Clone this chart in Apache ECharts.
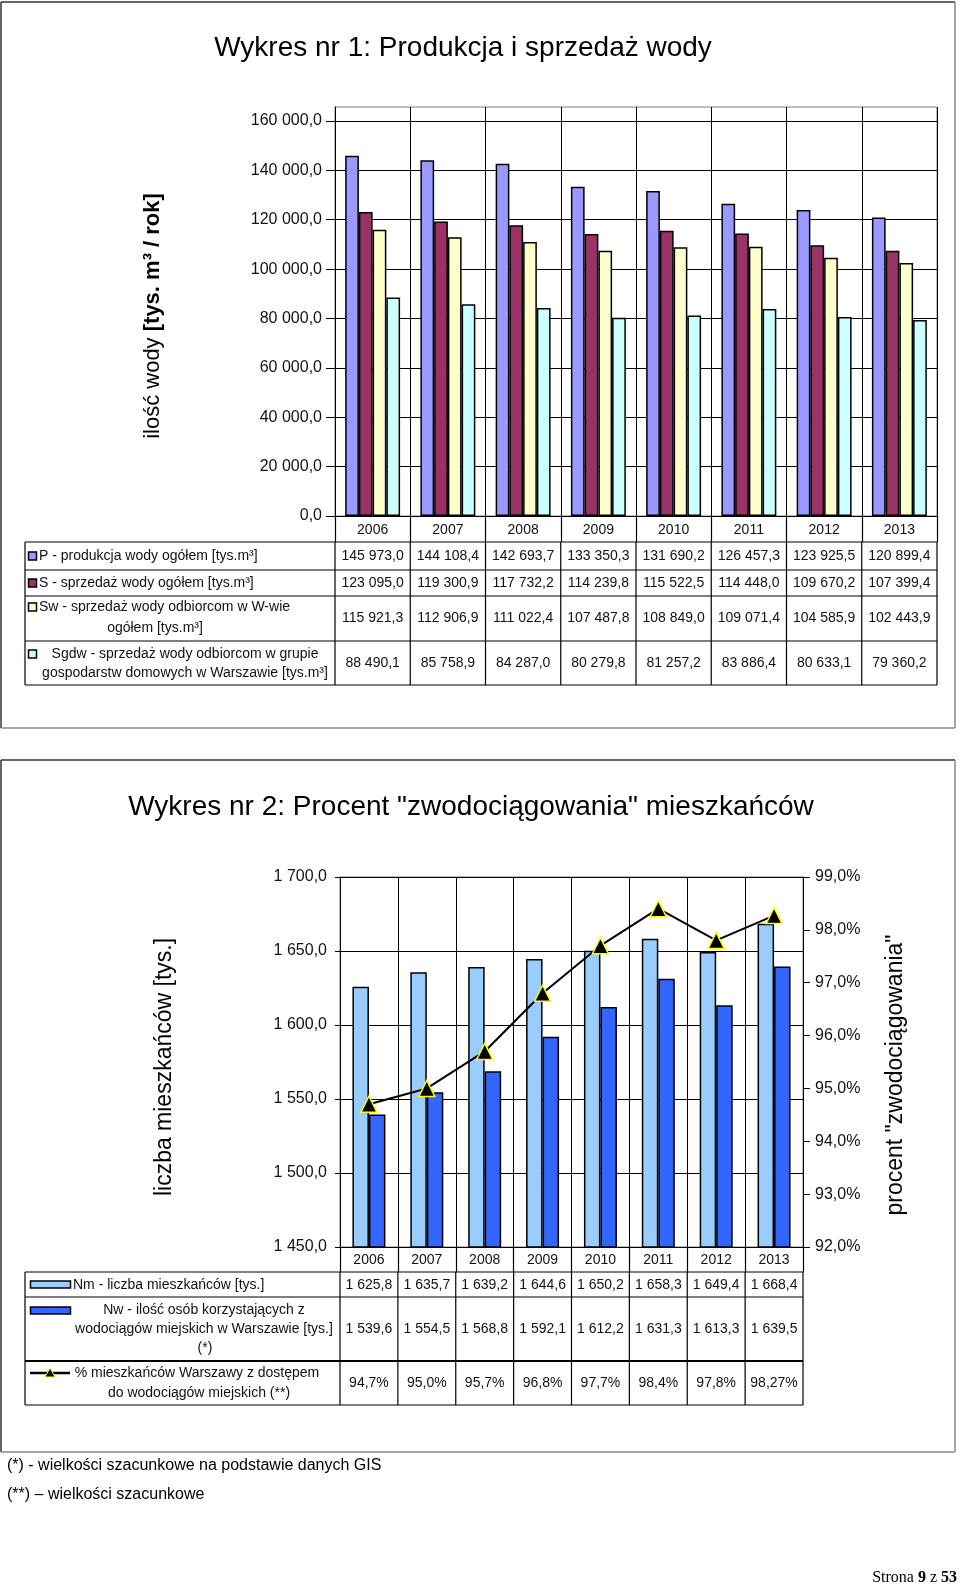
<!DOCTYPE html>
<html><head><meta charset="utf-8">
<script src="https://cdn.jsdelivr.net/npm/echarts@6/dist/echarts.min.js"></script>
<style>html,body{margin:0;padding:0;background:#fff}#c{width:960px;height:1588px}</style>
</head><body><div id="c"></div>
<script>
// ---------- data ----------
const years = ['2006','2007','2008','2009','2010','2011','2012','2013'];
const P    = [145973.0, 144108.4, 142693.7, 133350.3, 131690.2, 126457.3, 123925.5, 120899.4];
const S    = [123095.0, 119300.9, 117732.2, 114239.8, 115522.5, 114448.0, 109670.2, 107399.4];
const Sw   = [115921.3, 112906.9, 111022.4, 107487.8, 108849.0, 109071.4, 104585.9, 102443.9];
const Sgdw = [88490.1, 85758.9, 84287.0, 80279.8, 81257.2, 83886.4, 80633.1, 79360.2];
const Nm   = [1625.8, 1635.7, 1639.2, 1644.6, 1650.2, 1658.3, 1649.4, 1668.4];
const Nw   = [1539.6, 1554.5, 1568.8, 1592.1, 1612.2, 1631.3, 1613.3, 1639.5];
const pct  = [94.7, 95.0, 95.7, 96.8, 97.7, 98.4, 97.8, 98.27];
const yTicks1 = [0, 20000, 40000, 60000, 80000, 100000, 120000, 140000, 160000];
const yTicks2 = [1450, 1500, 1550, 1600, 1650, 1700];
const yTicks3 = [92, 93, 94, 95, 96, 97, 98, 99];

const FF = '"Liberation Sans", Arial, sans-serif';
const FS = '"Liberation Serif", "Times New Roman", serif';

function fmt(v, d) {
  const s = v.toFixed(d); const parts = s.split('.');
  const ii = parts[0].replace(/\B(?=(\d{3})+(?!\d))/g, ' ');
  return parts[1] ? ii + ',' + parts[1] : ii;
}
function fmtPct(v) {
  const s = Math.abs(Math.round(v * 10) - v * 10) < 1e-6 ? v.toFixed(1) : String(v);
  return s.replace('.', ',') + '%';
}

// ---------- layout ----------
const G1 = {l: 335, r: 937, t: 107, b: 516, tickTop: 121};
const G2 = {l: 340, r: 803, t: 877, b: 1247};
const max1 = yTicks1[yTicks1.length - 1] * (G1.b - G1.t) / (G1.b - G1.tickTop);

const g = [];
function line(x1, y1, x2, y2, c, w) { g.push({type: 'line', silent: true, shape: {x1, y1, x2, y2}, style: {stroke: c || '#000', lineWidth: w || 1}}); }
function txt(x, y, t, o) {
  o = o || {};
  g.push({type: 'text', silent: true, x, y, rotation: o.rot || 0, z: 50,
    style: {text: t, fill: o.color || '#111', fontSize: o.size || 14, fontFamily: o.font || FF, fontWeight: o.weight || 'normal',
      align: o.align || 'center', textAlign: o.align || 'center', verticalAlign: 'middle', textVerticalAlign: 'middle', rich: o.rich}});
}
function rect(x, y, w, h, fill, stroke, lw) { g.push({type: 'rect', silent: true, z: 50, shape: {x, y, width: w, height: h}, style: {fill, stroke: stroke || '#000', lineWidth: lw || 1}}); }

// frames
function frame(x, y, w, h) {
  line(x, y, x + w, y, '#333', 1.5); line(x, y, x, y + h, '#333', 1.5);
  line(x + w, y, x + w, y + h, '#888', 1.5); line(x, y + h, x + w, y + h, '#888', 1.5);
}
frame(1, 2, 954, 726);
frame(1, 760, 954, 692);

// titles
txt(463, 48, 'Wykres nr 1: Produkcja i sprzedaż wody', {size: 28, color: '#000'});
txt(471, 807, 'Wykres nr 2: Procent "zwodociągowania" mieszkańców', {size: 28, color: '#000'});

// axis names
txt(153, 316, '{a|ilość wody }{b|[tys. m³ / rok]}', {rot: Math.PI / 2, color: '#000',
  rich: {a: {fontSize: 22, fontFamily: FF, fill: '#000'}, b: {fontSize: 22, fontFamily: FF, fontWeight: 'bold', fill: '#000'}}});
txt(165, 1067, 'liczba mieszkańców [tys.]', {rot: Math.PI / 2, size: 23, color: '#000'});
txt(896, 1075, 'procent "zwodociągowania"', {rot: Math.PI / 2, size: 23, color: '#000'});

// ---------- table 1 ----------
const cw1 = (G1.r - G1.l) / years.length;
const rows1 = [542, 570, 596, 641, 685];
rows1.forEach(y => line(25, y, G1.r, y, '#000', 1.2));
line(25, rows1[0], 25, rows1[4], '#000', 1.2);
for (let i = 0; i <= years.length; i++) line(G1.l + cw1 * i, rows1[0], G1.l + cw1 * i, rows1[4], '#000', 1.2);
[P, S, Sw, Sgdw].forEach((arr, r) => {
  const cy = (rows1[r] + rows1[r + 1]) / 2;
  arr.forEach((v, i) => txt(G1.l + cw1 * (i + 0.5), cy, fmt(v, 1), {size: 14}));
});
const cols1 = ['#9999FF', '#993366', '#FFFFCC', '#CCFFFF'];
[556, 583, 607, 654].forEach((y, k) => rect(28.5, y - 4, 8, 8, cols1[k], '#000', 1.5));
txt(39, 556, 'P - produkcja wody ogółem [tys.m³]', {align: 'left'});
txt(39, 583, 'S - sprzedaż wody ogółem [tys.m³]', {align: 'left'});
txt(39, 607, 'Sw - sprzedaż wody odbiorcom w W-wie', {align: 'left'});
txt(155, 628, 'ogółem [tys.m³]');
txt(185, 654, 'Sgdw - sprzedaż wody odbiorcom w grupie');
txt(185, 673, 'gospodarstw domowych w Warszawie [tys.m³]');

// ---------- table 2 ----------
const cw2 = (G2.r - G2.l) / years.length;
const rows2 = [1272, 1297, 1361, 1405];
rows2.forEach((y, k) => line(25, y, G2.r, y, '#000', k === 2 ? 2 : 1.2));
line(25, rows2[0], 25, rows2[3], '#000', 1.2);
for (let i = 0; i <= years.length; i++) line(G2.l + cw2 * i, rows2[0], G2.l + cw2 * i, rows2[3], '#000', 1.2);
Nm.forEach((v, i) => txt(G2.l + cw2 * (i + 0.5), 1285, fmt(v, 1)));
Nw.forEach((v, i) => txt(G2.l + cw2 * (i + 0.5), 1329, fmt(v, 1)));
pct.forEach((v, i) => txt(G2.l + cw2 * (i + 0.5), 1383, fmtPct(v)));
rect(30.5, 1281, 40, 7, '#99CCFF', '#000', 1.5);
rect(30.5, 1307, 40, 7, '#3366FF', '#000', 1.5);
line(30, 1373, 70, 1373, '#000', 2.5);
g.push({type: 'polygon', silent: true, z: 51, shape: {points: [[50, 1368], [45, 1377], [55, 1377]]}, style: {fill: '#000', stroke: '#FFFF00', lineWidth: 1}});
txt(73, 1285, 'Nm - liczba mieszkańców [tys.]', {align: 'left'});
txt(204, 1310, 'Nw - ilość osób korzystających z');
txt(204, 1329, 'wodociągów miejskich w Warszawie [tys.]');
txt(205, 1348, '(*)');
txt(197, 1373, '% mieszkańców Warszawy z dostępem');
txt(199, 1393, 'do wodociągów miejskich (**)');

// footnotes
txt(7, 1466, '(*) - wielkości szacunkowe na podstawie danych GIS', {align: 'left', size: 16, color: '#000'});
txt(7, 1495, '(**) – wielkości szacunkowe', {align: 'left', size: 16, color: '#000'});
txt(957, 1578, '{a|Strona }{b|9}{a| z }{b|53}', {align: 'right', color: '#000',
  rich: {a: {fontSize: 16, fontFamily: FS, fill: '#000'}, b: {fontSize: 16, fontFamily: FS, fontWeight: 'bold', fill: '#000'}}});

// ---------- chart ----------
const axLine = {show: true, lineStyle: {color: '#000', width: 1}};
const lbl = {fontSize: 16, color: '#111', fontFamily: FF};
function bar(name, data, color, xi, yi, gap) {
  return {type: 'bar', name, data, xAxisIndex: xi, yAxisIndex: yi, barGap: '0%', barCategoryGap: gap,
    itemStyle: {color, borderColor: '#000', borderWidth: 1.5}};
}
const chart = echarts.init(document.getElementById('c'), null, {renderer: 'canvas'});
chart.setOption({
  animation: false,
  backgroundColor: '#fff',
  grid: [
    {left: G1.l, top: G1.t, width: G1.r - G1.l, height: G1.b - G1.t, show: true, borderColor: '#808080', borderWidth: 1, backgroundColor: 'transparent', containLabel: false, outerBoundsMode: 'none'},
    {left: G2.l, top: G2.t, width: G2.r - G2.l, height: G2.b - G2.t, show: true, borderColor: '#808080', borderWidth: 1, backgroundColor: 'transparent', containLabel: false, outerBoundsMode: 'none'}
  ],
  xAxis: [
    {type: 'category', gridIndex: 0, data: years, axisLine: axLine,
      axisTick: {show: true, length: rows1[0] - G1.b, lineStyle: {color: '#000', width: 1.2}},
      axisLabel: {fontSize: 14, color: '#111', fontFamily: FF, margin: 7},
      splitLine: {show: true, lineStyle: {color: '#000', width: 1}}},
    {type: 'category', gridIndex: 1, data: years, axisLine: axLine,
      axisTick: {show: true, length: rows2[0] - G2.b, lineStyle: {color: '#000', width: 1.2}},
      axisLabel: {fontSize: 14, color: '#111', fontFamily: FF, margin: 6},
      splitLine: {show: true, lineStyle: {color: '#000', width: 1}}}
  ],
  yAxis: [
    {type: 'value', gridIndex: 0, min: 0, max: max1, interval: 20000, axisLine: axLine,
      axisTick: {show: true, length: 9, customValues: yTicks1, lineStyle: {color: '#000'}},
      axisLabel: Object.assign({}, lbl, {customValues: yTicks1, margin: 13, formatter: v => fmt(v, 1)}),
      splitLine: {show: true, lineStyle: {color: '#000', width: 1}}},
    {type: 'value', gridIndex: 1, min: yTicks2[0], max: yTicks2[yTicks2.length - 1], interval: 50, axisLine: axLine,
      axisTick: {show: true, length: 5, lineStyle: {color: '#000'}},
      axisLabel: Object.assign({}, lbl, {margin: 13, formatter: v => fmt(v, 1)}),
      splitLine: {show: true, lineStyle: {color: '#000', width: 1}}},
    {type: 'value', gridIndex: 1, position: 'right', min: yTicks3[0], max: yTicks3[yTicks3.length - 1], interval: 1, axisLine: axLine,
      axisTick: {show: true, length: 7, lineStyle: {color: '#000'}},
      axisLabel: Object.assign({}, lbl, {margin: 12, formatter: v => v.toFixed(1).replace('.', ',') + '%'}),
      splitLine: {show: false}}
  ],
  series: [
    bar('P', P, '#9999FF', 0, 0, '27%'),
    bar('S', S, '#993366', 0, 0, '27%'),
    bar('Sw', Sw, '#FFFFCC', 0, 0, '27%'),
    bar('Sgdw', Sgdw, '#CCFFFF', 0, 0, '27%'),
    bar('Nm', Nm, '#99CCFF', 1, 1, '43%'),
    bar('Nw', Nw, '#3366FF', 1, 1, '43%'),
    {type: 'line', name: '%', data: pct, xAxisIndex: 1, yAxisIndex: 2, z: 10,
      symbol: 'triangle', symbolSize: 16, showSymbol: true,
      lineStyle: {color: '#000', width: 2},
      itemStyle: {color: '#000', borderColor: '#FFFF00', borderWidth: 1.5}}
  ],
  graphic: {elements: g}
});
</script></body></html>
